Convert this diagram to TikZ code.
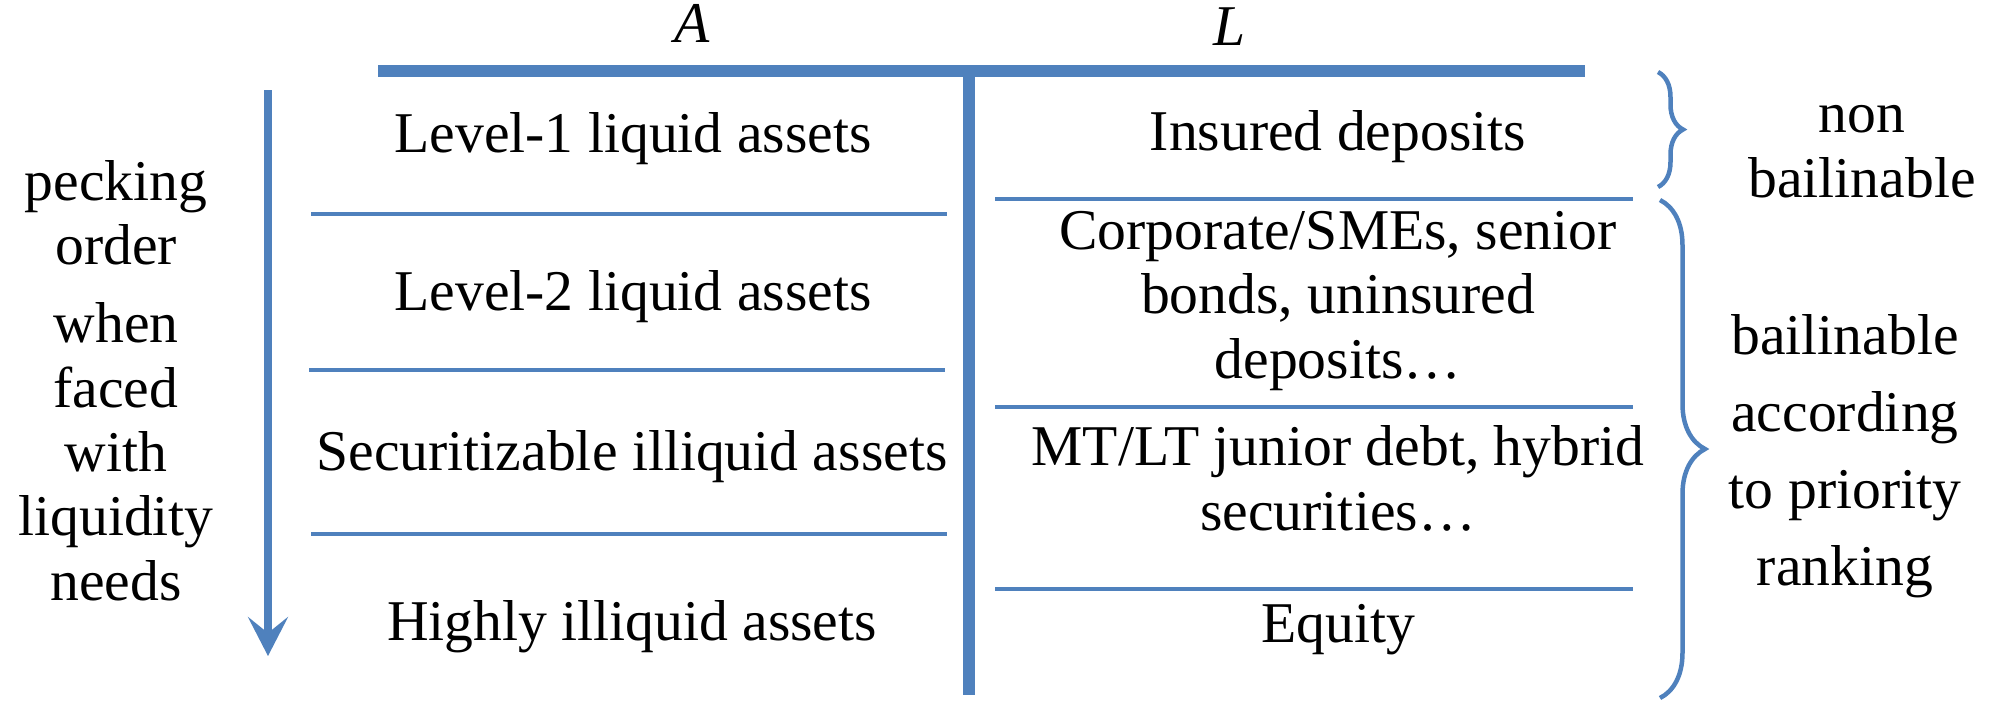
\documentclass[tikz,border=0pt]{standalone}
\usepackage{fontspec}
\setmainfont{Liberation Serif}
\usetikzlibrary{arrows.meta,decorations.pathreplacing}
\definecolor{sheetblue}{HTML}{4F81BD}

\begin{document}
\begin{tikzpicture}[
    txt/.style={font=\fontsize{16.4}{18.3}\selectfont, align=center, anchor=base, inner sep=0pt},
    bar/.style={draw=sheetblue, line width=0.12cm},
    rule/.style={draw=sheetblue, line width=0.04cm},
    brc/.style={draw=sheetblue, line width=0.045cm, decorate}]
        \useasboundingbox (0,0) rectangle (20.02,-7);
        \draw[bar] (3.78,-0.705) -- (15.85,-0.705);
        \draw[bar] (9.69,-0.76) -- (9.69,-6.95);
        \draw[rule] (3.11,-2.14) -- (9.47,-2.14);
        \draw[rule] (3.09,-3.70) -- (9.45,-3.70);
        \draw[rule] (3.11,-5.34) -- (9.47,-5.34);
        \draw[rule] (9.95,-1.99) -- (16.33,-1.99);
        \draw[rule] (9.95,-4.07) -- (16.33,-4.07);
        \draw[rule] (9.95,-5.89) -- (16.33,-5.89);
        \draw[draw=sheetblue, line width=0.08cm, -{Stealth[length=0.39cm, width=0.40cm, inset=0.16cm]}]
              (2.68,-0.90) -- (2.68,-6.56);
        \draw[brc, decoration={brace, amplitude=0.25cm}] (16.58,-0.72) -- (16.58,-1.87);
        \draw[brc, decoration={brace, amplitude=0.45cm}] (16.60,-2.00) -- (16.60,-6.98);
        \node[txt] (A) at (6.92,-0.42) {\textit{A}};
        \node[txt] (L) at (12.30,-0.45) {\textit{L}};
        \node[txt] (lvlone) at (6.33,-1.52) {Level-1 liquid assets};
        \node[txt] (lvltwo) at (6.33,-3.10) {Level-2 liquid assets};
        \node[txt] (secur) at (6.32,-4.70) {Securitizable illiquid assets};
        \node[txt] (illiq) at (6.32,-6.40) {Highly illiquid assets};
        \node[txt] (insured) at (13.38,-1.50) {Insured deposits};
        \node[txt] (senior) at (13.38,-3.78) {Corporate/SMEs, senior\\ bonds, uninsured\\ deposits\dots};
        \node[txt] (junior) at (13.38,-5.30) {MT/LT junior debt, hybrid\\ securities\dots};
        \node[txt] (equity) at (13.38,-6.42) {Equity};
        \node[txt] (pecking) at (1.16,-6.00) {pecking\\ order\\[0.14cm] when\\ faced\\ with\\ liquidity\\ needs};
        \node[txt] (nonbail) at (18.62,-1.97) {non\\ bailinable};
        \node[txt, font=\fontsize{16.4}{21.9}\selectfont] (bail) at (18.45,-5.85) {bailinable\\ according\\ to priority\\ ranking};
\end{tikzpicture}
\end{document}
